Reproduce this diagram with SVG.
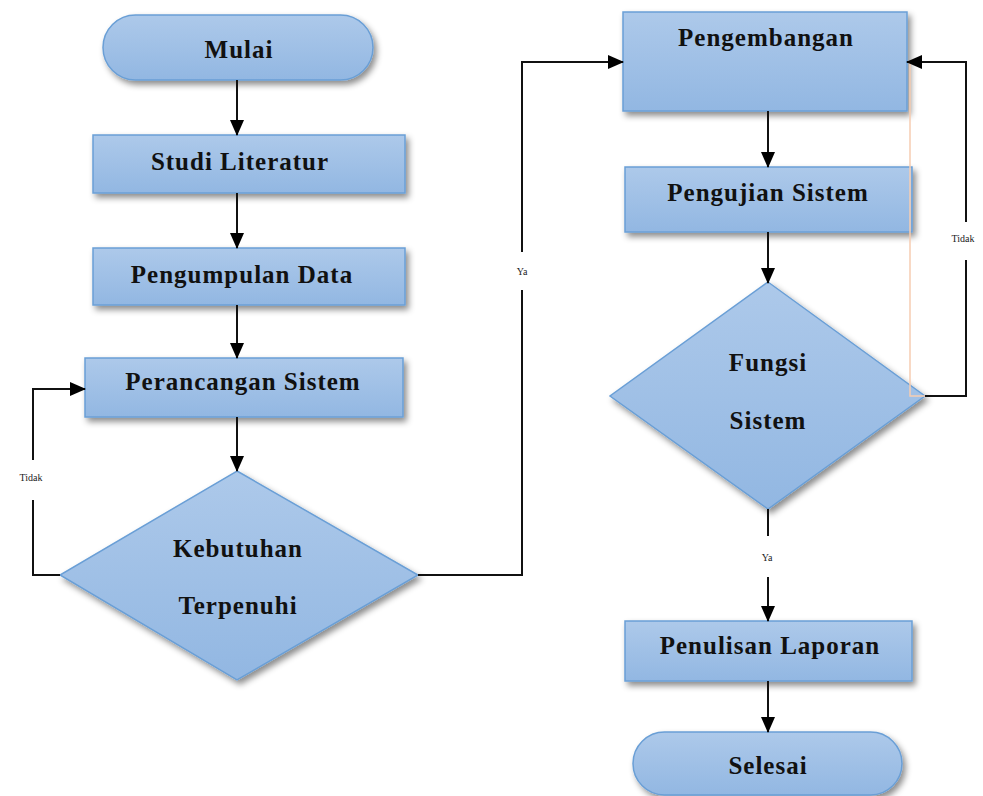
<svg xmlns="http://www.w3.org/2000/svg" width="983" height="796" viewBox="0 0 983 796">
<style>
.n{fill:url(#g);stroke:#6a9fd6;stroke-width:1.5;filter:url(#sh)}
.t{font-family:"Liberation Serif",serif;font-weight:bold;font-size:25px;fill:#111;text-anchor:middle;letter-spacing:1px}
.l{font-family:"Liberation Serif",serif;font-size:10px;fill:#222;text-anchor:middle}
.c{fill:none;stroke:#111;stroke-width:2}
</style>
<defs>
<linearGradient id="g" x1="0" y1="0" x2="0" y2="1">
<stop offset="0" stop-color="#adc9ea"/>
<stop offset="1" stop-color="#92b7e2"/>
</linearGradient>
<filter id="sh" x="-10%" y="-10%" width="125%" height="135%">
<feDropShadow dx="3" dy="4" stdDeviation="3" flood-color="#000" flood-opacity="0.45"/>
</filter>
<marker id="a" markerUnits="userSpaceOnUse" markerWidth="16" markerHeight="14" refX="15" refY="7" orient="auto">
<path d="M0,0 L16,7 L0,14 z" fill="#000"/>
</marker>
</defs>
<g id="mulai"><rect class="n" x="103" y="15" width="270" height="65" rx="32.5"/><text class="t" x="239" y="58">Mulai</text></g>
<g id="studi"><rect class="n" x="93" y="135" width="312" height="58"/><text class="t" x="240" y="170">Studi Literatur</text></g>
<g id="pengumpulan"><rect class="n" x="93" y="248" width="312" height="57"/><text class="t" x="242" y="283">Pengumpulan Data</text></g>
<g id="perancangan"><rect class="n" x="85" y="358" width="318" height="59"/><text class="t" x="243" y="390">Perancangan Sistem</text></g>
<g id="kebutuhan"><polygon class="n" points="237,471 418,575 237,680 60,575"/><text class="t" x="238" y="557">Kebutuhan</text><text class="t" x="238" y="614">Terpenuhi</text></g>
<g id="pengembangan"><rect class="n" x="623" y="12" width="284" height="99"/><text class="t" x="766" y="46">Pengembangan</text></g>
<g id="pengujian"><rect class="n" x="625" y="167" width="287" height="65"/><text class="t" x="768" y="201">Pengujian Sistem</text></g>
<g id="fungsi"><polygon class="n" points="768,282 925,396 768,509 610,396"/><text class="t" x="768" y="371">Fungsi</text><text class="t" x="768" y="429">Sistem</text></g>
<g id="penulisan"><rect class="n" x="625" y="621" width="287" height="60"/><text class="t" x="770" y="654">Penulisan Laporan</text></g>
<g id="selesai"><rect class="n" x="633" y="732" width="269" height="63" rx="31.5"/><text class="t" x="768" y="774">Selesai</text></g>
<g id="connectors">
<path class="c" d="M237,80 V135" marker-end="url(#a)"/>
<path class="c" d="M237,193 V248" marker-end="url(#a)"/>
<path class="c" d="M237,305 V358" marker-end="url(#a)"/>
<path class="c" d="M237,417 V471" marker-end="url(#a)"/>
<path class="c" d="M60,575 H33 V500"/>
<path class="c" d="M33,460 V389 H85" marker-end="url(#a)"/>
<text class="l" x="31" y="481">Tidak</text>
<path class="c" d="M418,575 H522 V290"/>
<path class="c" d="M522,252 V62 H623" marker-end="url(#a)"/>
<text class="l" x="522" y="275">Ya</text>
<path class="c" d="M768,111 V167" marker-end="url(#a)"/>
<path class="c" d="M768,232 V283" marker-end="url(#a)"/>
<path d="M910,62 V396 H925" fill="none" stroke="#f6cdb2" stroke-width="1.5"/>
<path class="c" d="M925,396 H966 V260" stroke="#7a5a4a"/>
<path class="c" d="M966,222 V62 H907" stroke="#7a5a4a" marker-end="url(#a)"/>
<text class="l" x="963" y="242">Tidak</text>
<path class="c" d="M768,509 V536"/>
<path class="c" d="M768,577 V621" marker-end="url(#a)"/>
<text class="l" x="767" y="561">Ya</text>
<path class="c" d="M768,681 V732" marker-end="url(#a)"/>
</g>
</svg>
